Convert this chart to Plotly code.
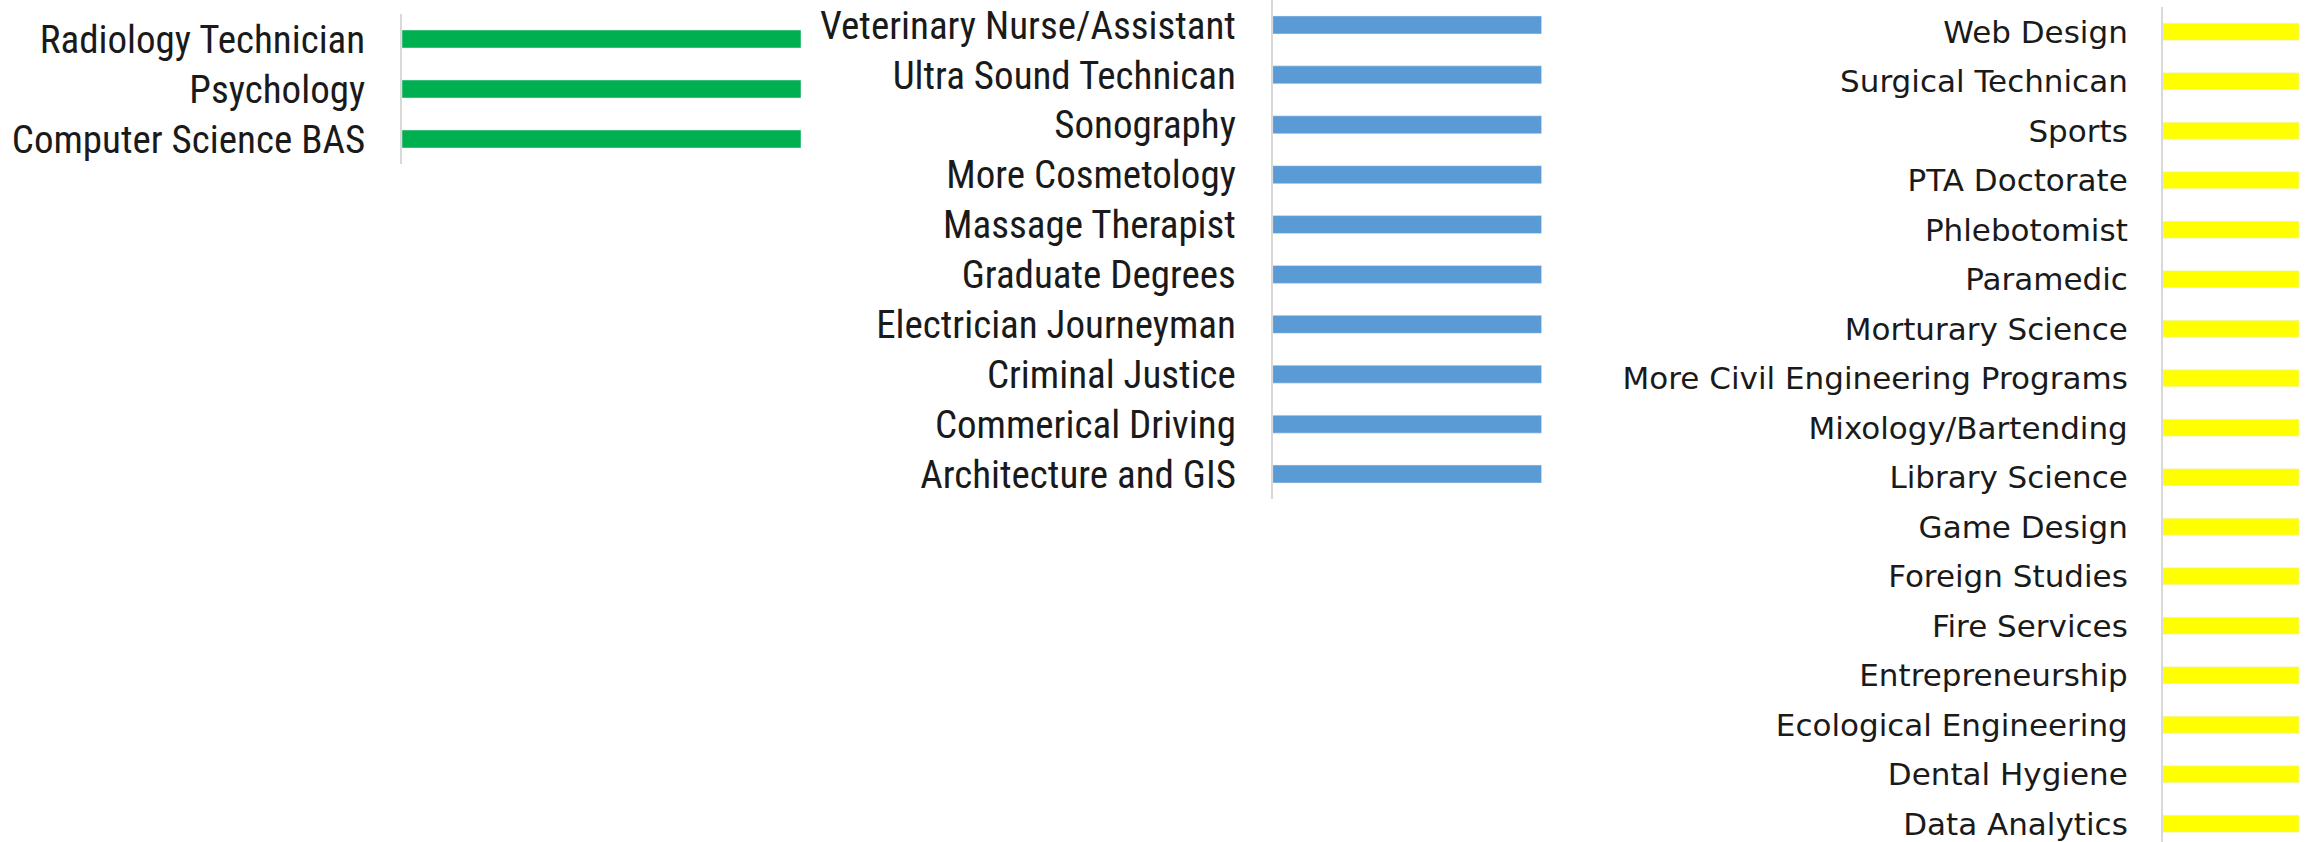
import plotly.graph_objects as go

W, H = 2315, 842

# data (bottom to top, as in the chart)
green_labels = ["Computer Science BAS", "Psychology", "Radiology Technician"]
green_values = [1, 1, 1]

blue_labels = ["Architecture and GIS", "Commerical Driving", "Criminal Justice",
               "Electrician Journeyman", "Graduate Degrees", "Massage Therapist",
               "More Cosmetology", "Sonography", "Ultra Sound Technican",
               "Veterinary Nurse/Assistant"]
blue_values = [1] * len(blue_labels)

yellow_labels = ["Data Analytics", "Dental Hygiene", "Ecological Engineering",
                 "Entrepreneurship", "Fire Services", "Foreign Studies", "Game Design",
                 "Library Science", "Mixology/Bartending", "More Civil Engineering Programs",
                 "Morturary Science", "Paramedic", "Phlebotomist", "PTA Doctorate",
                 "Sports", "Surgical Technican", "Web Design"]
yellow_values = [1] * len(yellow_labels)


def px_x(v):
    return v / W


def px_y(v):
    return 1 - v / H


fig = go.Figure()
fig.add_trace(go.Bar(x=green_values, y=green_labels, orientation="h",
                     marker_color="#00B050", xaxis="x", yaxis="y", width=0.36))
fig.add_trace(go.Bar(x=blue_values, y=blue_labels, orientation="h",
                     marker_color="#5B9BD5", xaxis="x2", yaxis="y2", width=0.36))
fig.add_trace(go.Bar(x=yellow_values, y=yellow_labels, orientation="h",
                     marker_color="#FFFF00", xaxis="x3", yaxis="y3", width=0.34))

narrow = dict(family="Liberation Sans Narrow, Roboto Condensed, Arial Narrow, sans-serif",
              size=39, color="#1a1a1a")
wide = dict(family="DejaVu Sans, Verdana, sans-serif", size=31, color="#1a1a1a")

yax = dict(type="category", showline=True, linecolor="#D9D9D9", linewidth=2,
           showgrid=False, zeroline=False, ticks="", ticklabelstandoff=27,
           fixedrange=True)

fig.update_layout(
    width=W, height=H,
    margin=dict(l=0, r=0, t=0, b=0),
    paper_bgcolor="white", plot_bgcolor="white",
    showlegend=False,
    xaxis=dict(domain=[px_x(402), px_x(801)], range=[0, 1], visible=False, anchor="y"),
    xaxis2=dict(domain=[px_x(1272.7), px_x(1541.7)], range=[0, 1], visible=False, anchor="y2"),
    xaxis3=dict(domain=[px_x(2163), px_x(2299)], range=[0, 1], visible=False, anchor="y3"),
    yaxis=dict(yax, domain=[px_y(164), px_y(14)], range=[-0.5, 2.5],
               anchor="x", tickfont=narrow),
    yaxis2=dict(yax, domain=[px_y(499), px_y(0)], range=[-0.5, 9.5],
                anchor="x2", tickfont=narrow),
    yaxis3=dict(yax, domain=[0, px_y(7)], range=[16.5 - (H - 7) / 49.5, 16.5],
                anchor="x3", tickfont=wide),
)

# page body has an 8px default margin; drop it so the chart sits at the corner
fig.write_html("out.html", config={"displayModeBar": False},
               post_script="document.body.style.margin='0';")
